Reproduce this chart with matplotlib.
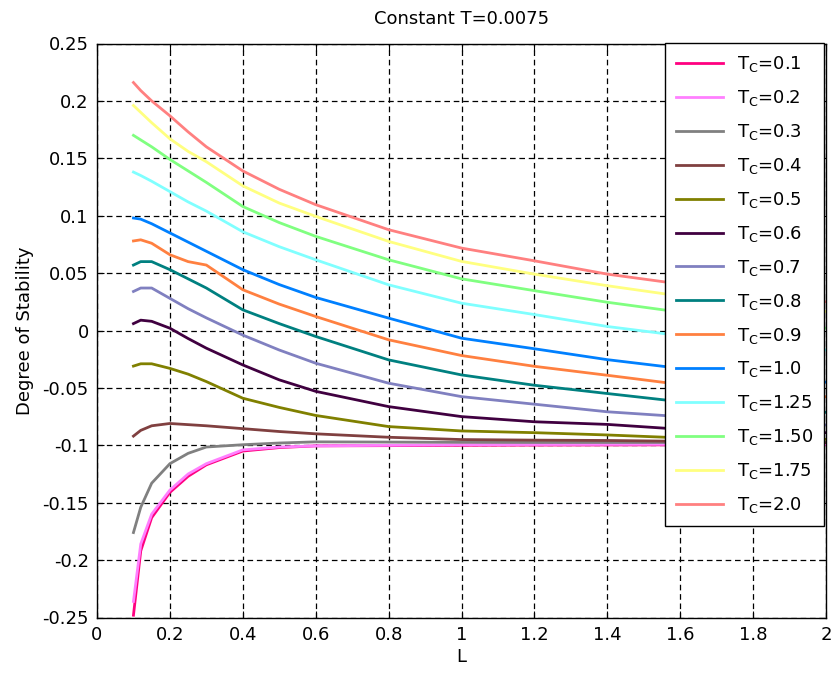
import matplotlib
matplotlib.use("Agg")
import matplotlib.pyplot as plt
from matplotlib.ticker import FixedLocator, FixedFormatter

plt.rcParams['font.family'] = ['DejaVu Sans']
plt.rcParams['axes.unicode_minus'] = False
plt.rcParams['mathtext.fontset'] = 'dejavusans'

L = [0.1, 0.12, 0.15, 0.2, 0.25, 0.3, 0.4, 0.5, 0.6, 0.8, 1.0, 1.2, 1.4, 1.6, 1.8, 2.0]

tc_labels = ["0.1", "0.2", "0.3", "0.4", "0.5", "0.6", "0.7", "0.8", "0.9",
             "1.0", "1.25", "1.50", "1.75", "2.0"]

s_01 = [-0.248, -0.192, -0.163, -0.141, -0.127, -0.117, -0.105, -0.102, -0.1005, -0.1003, -0.1, -0.0998, -0.0997, -0.0996, -0.0995, -0.0995]
s_02 = [-0.236, -0.186, -0.160, -0.139, -0.125, -0.116, -0.104, -0.1015, -0.1005, -0.100, -0.0995, -0.0993, -0.0992, -0.0991, -0.099, -0.099]
s_03 = [-0.176, -0.154, -0.133, -0.116, -0.107, -0.1015, -0.0995, -0.098, -0.097, -0.0972, -0.0974, -0.0975, -0.0975, -0.0975, -0.0975, -0.0975]
s_04 = [-0.092, -0.087, -0.083, -0.081, -0.082, -0.083, -0.0855, -0.088, -0.0900, -0.0930, -0.0950, -0.0955, -0.0958, -0.0965, -0.0972, -0.0977]
s_05 = [-0.031, -0.029, -0.029, -0.033, -0.038, -0.0445, -0.059, -0.067, -0.074, -0.0837, -0.0875, -0.089, -0.091, -0.0935, -0.0943, -0.0948]
s_06 = [0.006, 0.009, 0.008, 0.002, -0.007, -0.0154, -0.030, -0.043, -0.053, -0.0663, -0.075, -0.0795, -0.0818, -0.086, -0.0878, -0.089]
s_07 = [0.034, 0.037, 0.037, 0.028, 0.019, 0.011, -0.004, -0.017, -0.0285, -0.0459, -0.0576, -0.0642, -0.0708, -0.0750, -0.0790, -0.0823]
s_08 = [0.057, 0.060, 0.060, 0.053, 0.045, 0.037, 0.018, 0.006, -0.0052, -0.0256, -0.0387, -0.0477, -0.0549, -0.0620, -0.0670, -0.0713]
s_09 = [0.078, 0.079, 0.076, 0.066, 0.060, 0.057, 0.0355, 0.023, 0.0122, -0.0081, -0.0218, -0.0312, -0.039, -0.0470, -0.0530, -0.0577]
s_10 = [0.098, 0.097, 0.093, 0.085, 0.077, 0.069, 0.053, 0.040, 0.0288, 0.0108, -0.0067, -0.0159, -0.0254, -0.0330, -0.0395, -0.0450]
s_125 = [0.138, 0.135, 0.130, 0.121, 0.112, 0.104, 0.086, 0.073, 0.0616, 0.0398, 0.0238, 0.0139, 0.0035, -0.0045, -0.0110, -0.0170]
s_150 = [0.170, 0.166, 0.160, 0.149, 0.139, 0.129, 0.108, 0.094, 0.082, 0.0616, 0.045, 0.0347, 0.0246, 0.0160, 0.0085, 0.0020]
s_175 = [0.196, 0.190, 0.181, 0.167, 0.156, 0.147, 0.126, 0.111, 0.0994, 0.0776, 0.0602, 0.0491, 0.039, 0.0300, 0.0225, 0.0165]
s_200 = [0.216, 0.209, 0.200, 0.187, 0.173, 0.160, 0.139, 0.123, 0.1096, 0.0878, 0.0718, 0.0607, 0.0491, 0.0405, 0.0320, 0.0250]

series = [s_01, s_02, s_03, s_04, s_05, s_06, s_07, s_08, s_09, s_10, s_125, s_150, s_175, s_200]
colors = ['#FF0080', '#FF80FF', '#808080', '#804040', '#808000', '#400040', '#8080C0',
          '#008080', '#FF8040', '#0080FF', '#80FFFF', '#80FF80', '#FFFF80', '#FF8080']

xticks = [0, 0.2, 0.4, 0.6, 0.8, 1.0, 1.2, 1.4, 1.6, 1.8, 2.0]
xtick_labels = ["0", "0.2", "0.4", "0.6", "0.8", "1", "1.2", "1.4", "1.6", "1.8", "2"]
yticks = [-0.25, -0.2, -0.15, -0.1, -0.05, 0, 0.05, 0.1, 0.15, 0.2, 0.25]
ytick_labels = ["-0.25", "-0.2", "-0.15", "-0.1", "-0.05", "0", "0.05", "0.1", "0.15", "0.2", "0.25"]

fig = plt.figure(figsize=(8.33, 6.76), dpi=100)
ax = fig.add_axes([97/833, 1 - 617.5/676, (826 - 97)/833, (617.5 - 43.5)/676])

for ys, c, lab in zip(series, colors, tc_labels):
    ax.plot(L, ys, color=c, lw=2.0, label=r'T$_\mathrm{C}$=' + lab)

ax.set_xlim(0, 2)
ax.set_ylim(-0.25, 0.25)
ax.xaxis.set_major_locator(FixedLocator(xticks))
ax.xaxis.set_major_formatter(FixedFormatter(xtick_labels))
ax.yaxis.set_major_locator(FixedLocator(yticks))
ax.yaxis.set_major_formatter(FixedFormatter(ytick_labels))
ax.tick_params(direction='in', top=True, right=True, length=5, width=0.8, labelsize=13, pad=6)
ax.grid(True, color='black', linestyle=(0, (4.5, 3)), linewidth=0.9)
for sp in ax.spines.values():
    sp.set_linewidth(1.0)

ax.set_title('Constant T=0.0075', fontsize=13, pad=14)
ax.set_xlabel('L', fontsize=13, labelpad=3)
ax.set_ylabel('Degree of Stability', fontsize=13, labelpad=6)

leg = ax.legend(loc='upper right', bbox_to_anchor=(0.997, 1.0), borderaxespad=0,
                fontsize=13, frameon=True, fancybox=False, framealpha=1,
                edgecolor='black', handlelength=2.6, handletextpad=0.75,
                labelspacing=0.77, borderpad=0.6)
leg.get_frame().set_linewidth(1.0)

fig.savefig('out.png', dpi=100)
